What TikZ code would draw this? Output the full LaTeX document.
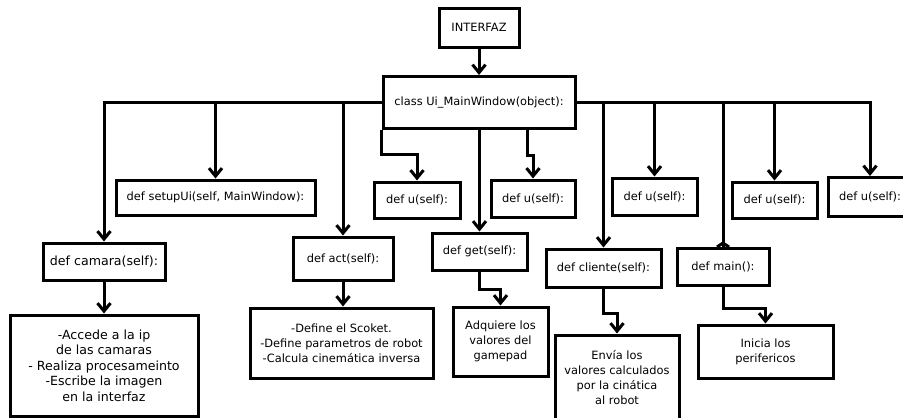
\documentclass[tikz,border=0pt]{standalone}
\usepackage{fontspec}
\setmainfont{DejaVu Sans}
\usetikzlibrary{arrows.meta}
\begin{document}
\begin{tikzpicture}[x=1pt,y=-1pt,
  line/.style={line width=3pt},
  arr/.style={line, -{Straight Barb[length=8pt,width=13pt]}},
  box/.style={draw, line width=3pt, fill=white, inner sep=2pt, align=center,
    font=\fontsize{11.4pt}{15pt}\selectfont},
  bigbox/.style={box, font=\fontsize{12.6pt}{15.5pt}\selectfont}]
\useasboundingbox (0,0) rectangle (903,418);
\clip (0,0) rectangle (903,418);

% main class and entry point
\node[box, minimum width=80pt, minimum height=39pt] (interfaz) at (479,27.5) {INTERFAZ};
\node[box, minimum width=192pt, minimum height=52pt] (cls) at (479,102.5) {class Ui\_MainWindow(object):};

% methods of the class
\node[box, minimum width=199pt, minimum height=35pt] (setup) at (215.5,197.5) {def setupUi(self, MainWindow):};
\node[box, minimum width=86pt, minimum height=36pt] (u1) at (417,200) {def u(self):};
\node[box, minimum width=84pt, minimum height=37pt] (u2) at (533,198.5) {def u(self):};
\node[box, minimum width=85pt, minimum height=37pt] (u3) at (654.5,196.5) {def u(self):};
\node[box, minimum width=85pt, minimum height=36pt] (u4) at (774.5,200) {def u(self):};
\node[box, minimum width=84pt, minimum height=39pt] (u5) at (870,197) {def u(self):};
\node[bigbox, minimum width=122pt, minimum height=37pt] (camara) at (104,261.5) {def camara(self):};
\node[box, minimum width=100pt, minimum height=43pt] (act) at (343,258.5) {def act(self):};
\node[box, minimum width=95pt, minimum height=37pt] (get) at (479.5,251.5) {def get(self):};
\node[box, minimum width=115pt, minimum height=38pt] (cliente) at (603.5,268) {def cliente(self):};
\node[box, minimum width=92pt, minimum height=37pt] (main) at (723,267) {def main():};

% descriptions
\node[bigbox, minimum width=188pt, minimum height=101pt] (dcam) at (104,365.5)
  {-Accede a la ip\\de las camaras\\- Realiza procesameinto\\-Escribe la imagen\\en la interfaz};
\node[box, minimum width=183pt, minimum height=70pt] (dact) at (341.5,343)
  {-Define el Scoket.\\-Define parametros de robot\\-Calcula cinemática inversa};
\node[box, minimum width=95pt, minimum height=69pt] (dget) at (500.5,341.5)
  {Adquiere los\\valores del\\gamepad};
\node[box, minimum width=124pt, minimum height=85pt] (dcli) at (617,377.5)
  {Envía los\\valores calculados\\por la cinática\\al robot};
\node[box, minimum width=135pt, minimum height=53pt] (dmain) at (765.5,351.5)
  {Inicia los\\perifericos};

% connectors
\draw[arr] (interfaz.south) -- (cls.north);
\draw[arr] (cls.west) -| (camara.north);
\draw[arr] (cls.west) -| (setup.north);
\draw[arr] (cls.west) -| (act.north);
\draw[arr] (cls.east) -| (cliente.north);
\draw[arr] (cls.east) -| (u3.north);
\draw[line] (cls.east) -| (main.north);
\draw[arr] (cls.east) -| (u4.north);
\draw[arr] (cls.east) -| (u5.north);
\draw[line] ([xshift=-6pt]main.north) -- ([yshift=4pt]main.north) -- ([xshift=6pt]main.north);
\draw[arr] (cls.south west) -- ++(0,24) -| (u1.north);
\draw[arr] (get.north |- cls.south) -- (get.north);
\draw[arr] ([xshift=48pt]cls.south) -- ++(0,25) -| (u2.north);

\draw[arr] (camara.south) -- (dcam.north);
\draw[arr] (act.south) -- (act.south |- dact.north);
\draw[arr] (get.south) -- ++(0,18) -| (dget.north);
\draw[arr] (cliente.south) -- ++(0,25) -| (dcli.north);
\draw[arr] (main.south) -- ++(0,21) -| (dmain.north);
\end{tikzpicture}
\end{document}
